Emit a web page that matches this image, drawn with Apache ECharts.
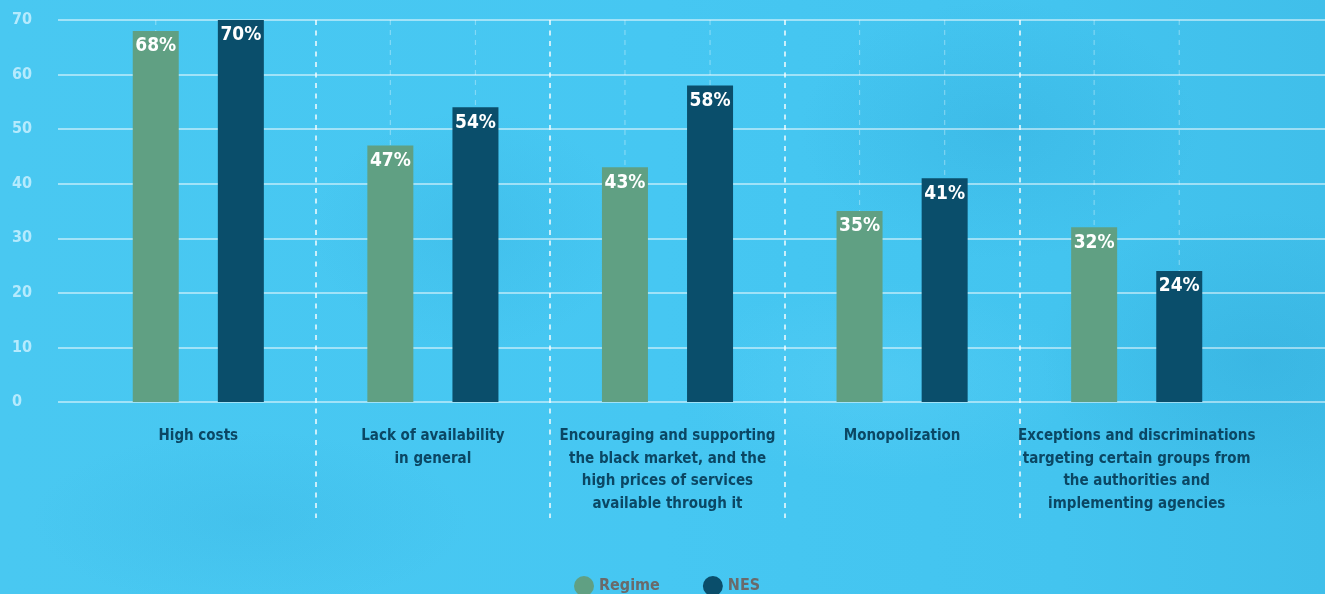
<!DOCTYPE html>
<html>
<head>
<meta charset="utf-8">
<title>Obstacles to accessing services</title>
<script src="https://cdn.jsdelivr.net/npm/echarts@6/dist/echarts.min.js"></script>
<style>
  html, body { margin: 0; padding: 0; width: 1325px; height: 594px; overflow: hidden; }
  body {
    background:
      radial-gradient(ellipse 200px 130px at 1000px 130px, rgba(35,150,200,0.20), rgba(35,150,200,0) 100%),
      radial-gradient(ellipse 220px 150px at 1260px 360px, rgba(35,150,200,0.22), rgba(35,150,200,0) 100%),
      radial-gradient(ellipse 160px 120px at 470px 230px, rgba(35,150,200,0.14), rgba(35,150,200,0) 100%),
      radial-gradient(ellipse 220px 90px at 250px 520px, rgba(35,150,200,0.12), rgba(35,150,200,0) 100%),
      radial-gradient(ellipse 200px 100px at 880px 380px, rgba(110,215,250,0.25), rgba(110,215,250,0) 100%),
      linear-gradient(90deg, #49c8f1 0%, #46c7f2 50%, #43c4ef 80%, #40bfea 100%);
  }
  #chart { width: 1325px; height: 594px; }
</style>
</head>
<body>
<div id="chart"></div>
<script>
// Categories (line breaks are how the labels wrap under each group)
const categories = [
  'High costs',
  'Lack of availability\nin general',
  'Encouraging and supporting\nthe black market, and the\nhigh prices of services\navailable through it',
  'Monopolization',
  'Exceptions and discriminations\ntargeting certain groups from\nthe authorities and\nimplementing agencies'
];
const seriesNames = ['Regime', 'NES'];
const regimeValues = [68, 47, 43, 35, 32];
const nesValues = [70, 54, 58, 41, 24];
const yTicks = [0, 10, 20, 30, 40, 50, 60, 70];

const FONT = "'Liberation Sans Narrow', 'DejaVu Sans Condensed', 'Liberation Sans', sans-serif";
const GREEN = '#60a083';
const NAVY = '#0a4e6b';
const BAR_WIDTH = 46;
const BAR_GAP = 0.85;
const Y_MAX = yTicks[yTicks.length - 1];
const Y_STEP = yTicks[1] - yTicks[0];

const chart = echarts.init(document.getElementById('chart'), null, { renderer: 'canvas' });

// faint dashed guide running through the centre of each bar slot
function barGuides(params, api) {
  const idx = api.value(0);
  const top = api.coord([idx, Y_MAX]);
  const bottom = api.coord([idx, 0]);
  const half = (BAR_WIDTH + BAR_WIDTH * BAR_GAP) / 2;
  const children = [-half, half].map(function (dx) {
    return {
      type: 'line',
      shape: { x1: top[0] + dx, y1: top[1], x2: bottom[0] + dx, y2: bottom[1] },
      style: { stroke: 'rgba(255,255,255,0.32)', lineWidth: 1.2, lineDash: [5, 5] }
    };
  });
  return { type: 'group', children: children };
}

const valueLabel = {
  show: true,
  position: 'insideTop',
  distance: 6,
  formatter: '{c}%',
  color: '#ffffff',
  fontFamily: FONT,
  fontWeight: 'bold',
  fontSize: 19
};

chart.setOption({
  animation: false,
  textStyle: { fontFamily: FONT },
  legend: {
    data: seriesNames,
    left: 574,
    top: 576,
    padding: 0,
    icon: 'circle',
    itemWidth: 20,
    itemHeight: 20,
    itemGap: 43,
    textStyle: { color: '#6a6a6a', fontSize: 16, fontWeight: 'bold', fontFamily: FONT }
  },
  grid: [
    // wide grid carrying the horizontal value lines
    { left: 58, right: 0, top: 20, height: 382 },
    // bars
    { left: 81, right: 71, top: 20, height: 382 },
    // dashed group separators reaching down past the labels
    { left: 81, right: 71, top: 20, bottom: 76 }
  ],
  xAxis: [
    { gridIndex: 0, type: 'category', data: categories, show: false },
    {
      gridIndex: 1, type: 'category', data: categories,
      axisLine: { show: false }, axisTick: { show: false }, splitLine: { show: false },
      axisLabel: {
        interval: 0, margin: 23, color: '#0b4764', fontFamily: FONT,
        fontWeight: 'bold', fontSize: 15, lineHeight: 22.5, align: 'center'
      }
    },
    {
      gridIndex: 2, type: 'category', data: categories,
      axisLine: { show: false }, axisTick: { show: false }, axisLabel: { show: false },
      splitLine: {
        show: true, showMinLine: false, showMaxLine: false,
        lineStyle: { color: 'rgba(255,255,255,0.95)', width: 1.5, type: [5, 5.5] }
      }
    }
  ],
  yAxis: [
    {
      gridIndex: 0, type: 'value', min: 0, max: Y_MAX, interval: Y_STEP,
      axisLine: { show: false }, axisTick: { show: false },
      axisLabel: {
        align: 'left', margin: 46, color: 'rgba(200,240,255,0.85)',
        fontFamily: FONT, fontWeight: 'bold', fontSize: 16
      },
      splitLine: { lineStyle: { color: 'rgba(255,255,255,0.65)', width: 1.5 } }
    },
    { gridIndex: 1, type: 'value', min: 0, max: Y_MAX, interval: Y_STEP, show: false },
    { gridIndex: 2, type: 'value', min: 0, max: 1, show: false }
  ],
  series: [
    {
      type: 'custom',
      xAxisIndex: 1, yAxisIndex: 1,
      renderItem: barGuides,
      data: categories.map(function (c, i) { return [i]; }),
      silent: true,
      z: 1
    },
    {
      name: seriesNames[0], type: 'bar', xAxisIndex: 1, yAxisIndex: 1,
      data: regimeValues, barWidth: BAR_WIDTH, barGap: (BAR_GAP * 100) + '%',
      itemStyle: { color: GREEN }, label: valueLabel, z: 3
    },
    {
      name: seriesNames[1], type: 'bar', xAxisIndex: 1, yAxisIndex: 1,
      data: nesValues, barWidth: BAR_WIDTH, barGap: (BAR_GAP * 100) + '%',
      itemStyle: { color: NAVY }, label: valueLabel, z: 3
    }
  ]
});
</script>
</body>
</html>
